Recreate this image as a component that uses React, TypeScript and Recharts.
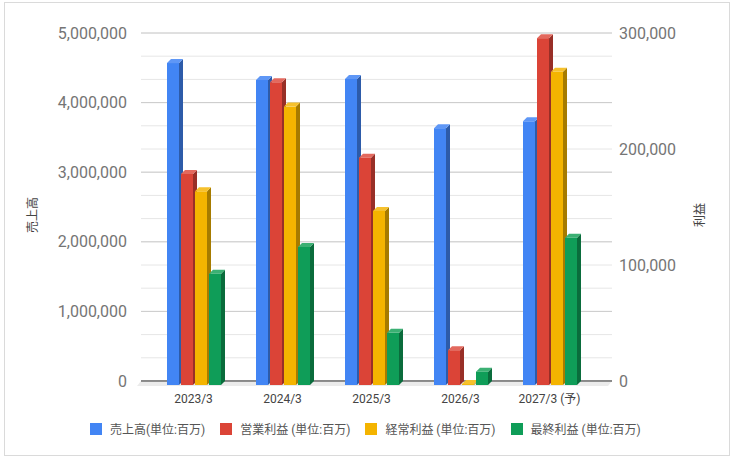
import { BarChart, Bar, XAxis, YAxis, CartesianGrid, ReferenceLine } from 'recharts'

const periods = ['2023/3', '2024/3', '2025/3', '2026/3', '2027/3 (予)']
const sales = [4626000, 4382000, 4397000, 3690000, 3789000]
const operatingProfit = [182000, 261000, 196000, 30000, 299000]
const ordinaryProfit = [167000, 240000, 150000, 800, 270000]
const netProfit = [96000, 119000, 45000, 11500, 127000]

const salesTicks = [0, 1000000, 2000000, 3000000, 4000000, 5000000]
const profitTicks = [0, 100000, 200000, 300000]
// 15 light gridlines over the left range
const minorLines = Array.from({ length: 16 }, (_, i) => (5000000 / 15) * i)

const data = periods.map((period, i) => ({
  period,
  sales: sales[i],
  operating: operatingProfit[i],
  ordinary: ordinaryProfit[i],
  net: netProfit[i],
}))

const series = [
  { key: 'sales', axis: 'left', name: '売上高(単位:百万)', front: '#4285f4', side: '#2d5ba9', top: '#5f97f6' },
  { key: 'operating', axis: 'right', name: '営業利益 (単位:百万)', front: '#db4437', side: '#982f27', top: '#e3695e' },
  { key: 'ordinary', axis: 'right', name: '経常利益 (単位:百万)', front: '#f4b400', side: '#a67b00', top: '#f6c12d' },
  { key: 'net', axis: 'right', name: '最終利益 (単位:百万)', front: '#0f9d58', side: '#0a6c3c', top: '#3bb073' },
]

const D = 4
const FONT = "Roboto, 'Noto Sans CJK JP', sans-serif"

function box(front: string, side: string, top: string) {
  return (props: any) => {
    const { x, y, width, height } = props
    if (x == null || y == null) return <g />
    const h = Math.max(height, 0)
    return (
      <g>
        <rect x={x} y={y + D} width={width} height={h} fill={front} />
        <polygon
          points={`${x + width},${y + D} ${x + width + D},${y} ${x + width + D},${y + h} ${x + width},${y + h + D}`}
          fill={side}
        />
        <polygon
          points={`${x},${y + D} ${x + D},${y} ${x + width + D},${y} ${x + width},${y + D}`}
          fill={top}
        />
      </g>
    )
  }
}

function Floor(props: any) {
  const { x1, y1, x2 } = props
  return (
    <g>
      <polygon points={`${x1},${y1} ${x2},${y1} ${x2 - D},${y1 + D + 1} ${x1 - D},${y1 + D + 1}`} fill="#ebebeb" />
      <line x1={x1} y1={y1} x2={x2} y2={y1} stroke="#333" strokeWidth={1} />
    </g>
  )
}

function AxisTitle(props: any) {
  const { viewBox, value, dx } = props
  if (!viewBox) return null
  const cx = viewBox.x + dx
  const cy = viewBox.y + viewBox.height / 2 + 8
  return (
    <text
      x={cx}
      y={cy}
      transform={`rotate(-90 ${cx} ${cy})`}
      textAnchor="middle"
      dominantBaseline="central"
      fontSize={12}
      fill="#444"
      fontFamily={FONT}
    >
      {value}
    </text>
  )
}

const fmt = (v: number) => v.toLocaleString('en-US')

export default function App() {
  return (
    <div style={{ position: 'absolute', left: 0, top: 0, width: 734, height: 460, fontFamily: FONT, background: '#fff' }}>
      <div
        style={{
          position: 'absolute',
          left: 4,
          top: 2,
          width: 726,
          height: 454,
          border: '1px solid #dadada',
          boxSizing: 'border-box',
        }}
      />
      <div style={{ position: 'absolute', left: 0, top: 0 }}>
        <BarChart
          width={734}
          height={460}
          data={data}
          margin={{ top: 33, right: 0, bottom: 49, left: 0 }}
          barSize={12}
          barGap={2}
        >
          <CartesianGrid yAxisId="left" vertical={false} horizontalValues={minorLines} stroke="#e6e6e6" />
          <CartesianGrid yAxisId="left" vertical={false} horizontalValues={salesTicks} stroke="#cccccc" />
          <XAxis
            dataKey="period"
            tickLine={false}
            axisLine={false}
            tickSize={0}
            tickMargin={13}
            height={30}
            padding={{ left: 8, right: 18 }}
            tick={{ fontSize: 12, fill: '#444', fontFamily: FONT }}
            interval={0}
          />
          <YAxis
            yAxisId="left"
            width={141}
            domain={[0, 5000000]}
            ticks={salesTicks}
            tickFormatter={fmt}
            tickLine={false}
            axisLine={false}
            tickSize={0}
            tickMargin={14}
            tick={{ fontSize: 16, fill: '#757575', fontFamily: FONT }}
            label={<AxisTitle value="売上高" dx={33} />}
          />
          <YAxis
            yAxisId="right"
            orientation="right"
            width={122}
            domain={[0, 300000]}
            ticks={profitTicks}
            tickFormatter={fmt}
            tickLine={false}
            axisLine={false}
            tickSize={0}
            tickMargin={7}
            tick={{ fontSize: 16, fill: '#757575', fontFamily: FONT, textAnchor: 'start' }}
            label={<AxisTitle value="利益" dx={88} />}
          />
          <ReferenceLine yAxisId="left" y={0} shape={<Floor />} zIndex={-50} />
          {series.map((s) => (
            <Bar
              key={s.key}
              dataKey={s.key}
              yAxisId={s.axis}
              name={s.name}
              fill={s.front}
              shape={box(s.front, s.side, s.top)}
              isAnimationActive={false}
            />
          ))}
        </BarChart>
      </div>
      <div
        style={{
          position: 'absolute',
          left: 90,
          top: 420,
          display: 'flex',
          alignItems: 'center',
          fontSize: 12,
          color: '#555',
          whiteSpace: 'nowrap',
        }}
      >
        {series.map((s) => (
          <div key={s.key} style={{ display: 'flex', alignItems: 'center', marginRight: 15 }}>
            <span style={{ display: 'inline-block', width: 12, height: 12, background: s.front, marginRight: 8 }} />
            <span>{s.name}</span>
          </div>
        ))}
      </div>
    </div>
  )
}
